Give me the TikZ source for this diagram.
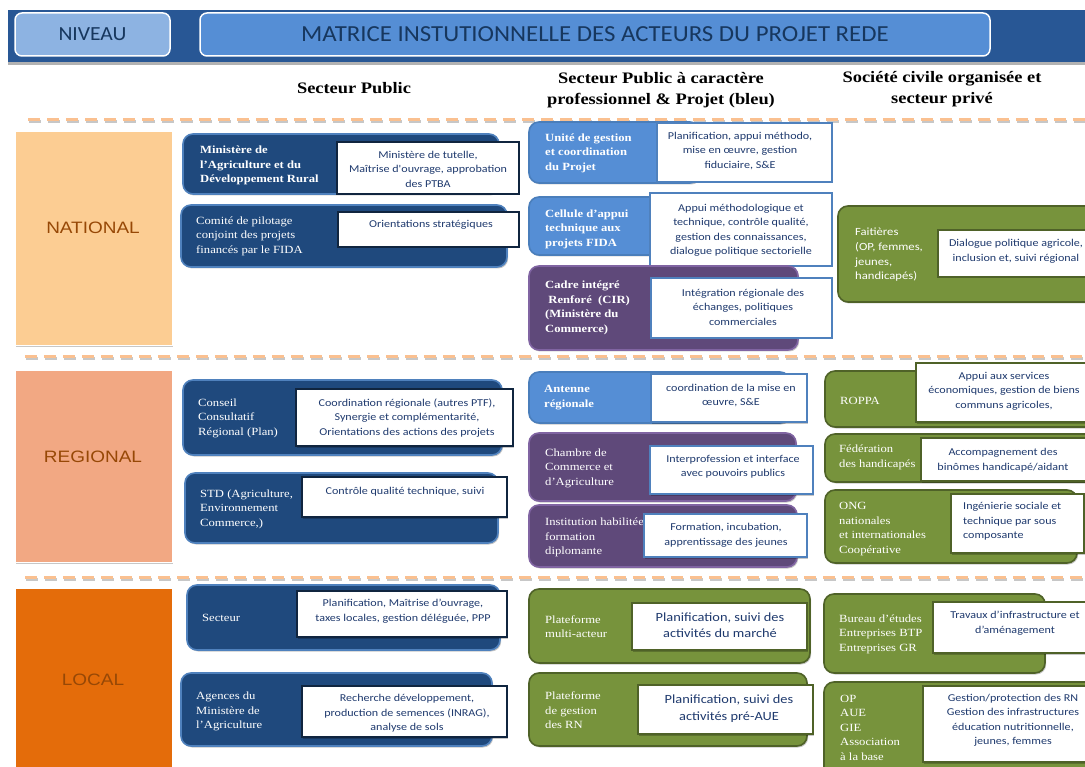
\documentclass[tikz,border=0pt]{standalone}
\usepackage{fontspec}
\setmainfont[FakeStretch=1.15]{Liberation Serif}
\newfontfamily\calfont[FakeStretch=1.15]{Carlito}
\newfontfamily\calwide[FakeStretch=1.08]{Carlito}
\newfontfamily\arifont[FakeStretch=1.15]{Liberation Sans}
\usetikzlibrary{shadows}
\definecolor{cBanner}{HTML}{285795}
\definecolor{cNiv}{HTML}{8DB3E2}
\definecolor{cTitle}{HTML}{558ED5}
\definecolor{cTitleTxt}{HTML}{17375E}
\definecolor{cNavy}{HTML}{1F497D}
\definecolor{cNavyB}{HTML}{4F81BD}
\definecolor{cBlue}{HTML}{558ED5}
\definecolor{cBlueB}{HTML}{4A7EBB}
\definecolor{cPurple}{HTML}{5F497A}
\definecolor{cPurpleB}{HTML}{8064A2}
\definecolor{cGreen}{HTML}{77933C}
\definecolor{cGreenB}{HTML}{4F6228}
\definecolor{cDark}{HTML}{10253F}
\definecolor{cWBlue}{HTML}{4F81BD}
\definecolor{cText}{HTML}{1F3A6E}
\definecolor{cNat}{HTML}{FCCD93}
\definecolor{cReg}{HTML}{F2A883}
\definecolor{cLoc}{HTML}{E46C0A}
\definecolor{cLvlTxt}{HTML}{974806}
\definecolor{cDash}{HTML}{FAC090}
\begin{document}
\begin{tikzpicture}[x=1pt,y=-1pt,
  shad/.style={drop shadow={shadow xshift=1.2pt,shadow yshift=-1.5pt,fill=black,opacity=0.22}},
  base/.style={shad,line width=1.6pt,rounded corners=10pt,inner sep=0pt},
  navybox/.style={base,fill=cNavy,draw=cNavyB},
  bluebox/.style={base,fill=cBlue,draw=cBlueB},
  purplebox/.style={base,fill=cPurple,draw=cPurpleB},
  greenbox/.style={base,fill=cGreen,draw=cGreenB},
  wbox/.style={shad,fill=white,line width=1.6pt,inner sep=0pt},
  wdark/.style={wbox,draw=cDark},
  wblue/.style={wbox,draw=cWBlue},
  wgreen/.style={wbox,draw=cGreenB},
  lab/.style={text=white,font={\fontsize{11}{14.5}\selectfont},align=left,anchor=west,inner sep=0pt},
  labb/.style={lab,font={\bfseries\fontsize{11}{14.5}\selectfont}},
  labs/.style={lab,font={\calfont\fontsize{11}{14.7}\selectfont}},
  itx/.style={text=cText,font={\calfont\fontsize{10.5}{14.5}\selectfont},align=center,inner sep=0pt},
  itxl/.style={itx,font={\calfont\fontsize{12.5}{16.5}\selectfont}},
  hdr/.style={font={\bfseries\fontsize{16}{21.5}\selectfont},align=center,inner sep=0pt},
  lvl/.style={shad,draw=white,line width=1pt,inner sep=0pt,minimum width=157pt},
  lvltxt/.style={text=cLvlTxt,font={\arifont\fontsize{16.5}{19}\selectfont},inner sep=0pt},
  dashline/.style={draw=cDash,line width=3pt,dash pattern=on 12pt off 7pt},
  dashshad/.style={draw=black!22,line width=3pt,dash pattern=on 12pt off 7pt}
]
\useasboundingbox (0,0) rectangle (1085,767);
\clip (0,0) rectangle (1085,767);
\fill[white] (0,0) rectangle (1085,767);

% banner
\node[inner sep=0pt,fill=cBanner,minimum width=1077pt,minimum height=52pt,
  drop shadow={shadow xshift=0pt,shadow yshift=-3pt,fill=black,opacity=0.3}] (banner) at (546.5,36) {};
\node[fill=cNiv,draw=white,line width=1.5pt,rounded corners=7pt,minimum width=155pt,minimum height=43pt,
  text=cTitleTxt,font={\calwide\fontsize{20}{22}\selectfont}] (niveau) at (92.5,34.5) {NIVEAU};
\node[fill=cTitle,draw=white,line width=1.5pt,rounded corners=7pt,minimum width=790pt,minimum height=43pt,
  text=cTitleTxt,font={\calwide\fontsize{23}{26}\selectfont}] (titre) at (595,34.5) {MATRICE INSTUTIONNELLE DES ACTEURS DU PROJET REDE};

% headers
\node[hdr] (hpub) at (354,88) {Secteur Public};
\node[hdr] (hpro) at (661,90) {Secteur Public à caractère\\professionnel \& Projet (bleu)};
\node[hdr] (hsoc) at (942,89) {Société civile organisée et\\secteur privé};

% dashed separators
\foreach \yy/\xx in {120/28,357/25,577/25}{
  \draw[dashshad] (\xx+1,\yy+2) -- (1090,\yy+2);
  \draw[dashline] (\xx,\yy) -- (1090,\yy);
}

% levels
\node[lvl,fill=cNat,minimum height=214pt] (national) at (93.5,239) {};
\node[lvltxt] (tnat) at (93,228) {NATIONAL};
\node[lvl,fill=cReg,minimum height=191pt] (regional) at (93.5,466.5) {};
\node[lvltxt] (treg) at (93,457) {REGIONAL};
\node[lvl,fill=cLoc,minimum height=200pt] (local) at (93.5,688) {};
\node[lvltxt] (tloc) at (93,680) {LOCAL};

% ---------- NATIONAL ----------
\node[navybox,minimum width=316pt,minimum height=60pt] (minis) at (341,164) {};
\node[labb] (minisL) at (200,165.5) {Ministère de\\l'Agriculture et du\\Développement Rural};
\node[wdark,minimum width=182pt,minimum height=52pt] (minisW) at (428,168) {};
\node[itx] (minisT) at (428,169) {Ministère de tutelle,\\Maîtrise d'ouvrage, approbation\\des PTBA};

\node[navybox,minimum width=326pt,minimum height=62pt] (comite) at (344,236) {};
\node[lab] (comiteL) at (196,236) {Comité de pilotage\\conjoint des projets\\financés par le FIDA};
\node[wdark,minimum width=181pt,minimum height=35pt] (comiteW) at (428.5,229.5) {};
\node[itx] (comiteT) at (431,225) {Orientations stratégiques};

\node[bluebox,minimum width=171pt,minimum height=61pt] (unite) at (614.5,152.5) {};
\node[labb] (uniteL) at (545,153) {Unité de gestion\\et coordination\\du Projet};
\node[wblue,minimum width=175pt,minimum height=59pt] (uniteW) at (744.5,152.5) {};
\node[itx] (uniteT) at (740,151) {Planification, appui méthodo,\\mise en œuvre, gestion\\fiduciaire, S\&E};

\node[bluebox,minimum width=171pt,minimum height=58pt] (cellule) at (614.5,226) {};
\node[labb] (celluleL) at (545,229) {Cellule d'appui\\technique aux\\projets FIDA};
\node[wblue,minimum width=182pt,minimum height=73pt] (celluleW) at (741,229.5) {};
\node[itx] (celluleT) at (741,230.5) {Appui méthodologique et\\technique, contrôle qualité,\\gestion des connaissances,\\dialogue politique sectorielle};

\node[purplebox,minimum width=269pt,minimum height=84pt] (cadre) at (663.5,308) {};
\node[labb] (cadreL) at (545,308) {Cadre intégré\\\ Renforé\ \ (CIR)\\(Ministère du\\Commerce)};
\node[wblue,minimum width=181pt,minimum height=60pt] (cadreW) at (741.5,308) {};
\node[itx] (cadreT) at (743,307) {Intégration régionale des\\échanges, politiques\\commerciales};

\node[greenbox,minimum width=272pt,minimum height=96pt] (fait) at (974,254) {};
\node[labs] (faitL) at (855,255) {Faitières\\(OP, femmes,\\jeunes,\\handicapés)};
\node[wgreen,minimum width=172pt,minimum height=47pt] (faitW) at (1024,253.5) {};
\node[itx] (faitT) at (1016,251.5) {Dialogue politique agricole,\\inclusion et, suivi régional};

% ---------- REGIONAL ----------
\node[navybox,minimum width=319pt,minimum height=75pt] (conseil) at (342.5,417.5) {};
\node[lab] (conseilL) at (198,418) {Conseil\\Consultatif\\Régional (Plan)};
\node[wdark,minimum width=217pt,minimum height=57pt] (conseilW) at (404.5,417.5) {};
\node[itx] (conseilT) at (407,418) {Coordination régionale (autres PTF),\\Synergie et complémentarité,\\Orientations des actions des projets};

\node[navybox,minimum width=313pt,minimum height=70pt] (std) at (341.5,508) {};
\node[lab] (stdL) at (200,509) {STD (Agriculture,\\Environnement\\Commerce,)};
\node[wdark,minimum width=205pt,minimum height=40pt] (stdW) at (404.5,497) {};
\node[itx] (stdT) at (405,492) {Contrôle qualité technique, suivi};

\node[bluebox,minimum width=261pt,minimum height=51pt] (antenne) at (659.5,397.5) {};
\node[labb] (antenneL) at (544,397.5) {Antenne\\régionale};
\node[wblue,minimum width=156pt,minimum height=48pt] (antenneW) at (729,398) {};
\node[itx] (antenneT) at (731,395.5) {coordination de la mise en\\œuvre, S\&E};

\node[purplebox,minimum width=267pt,minimum height=68pt] (chambre) at (662.5,467) {};
\node[lab] (chambreL) at (545,468) {Chambre de\\Commerce et\\d’Agriculture};
\node[wblue,minimum width=163pt,minimum height=48pt] (chambreW) at (731.5,470) {};
\node[itx] (chambreT) at (733,466.5) {Interprofession et interface\\avec pouvoirs publics};

\node[purplebox,minimum width=268pt,minimum height=62pt] (instit) at (663,536) {};
\node[lab] (institL) at (545,537.5) {Institution habilitée\\formation\\diplomante};
\node[wblue,minimum width=163pt,minimum height=43pt] (institW) at (725.5,535.5) {};
\node[itx] (institT) at (726,535.5) {Formation, incubation,\\apprentissage des jeunes};

\node[greenbox,minimum width=275pt,minimum height=56pt] (roppa) at (962.5,399) {};
\node[lab] (roppaL) at (840,401) {ROPPA};
\node[wgreen,minimum width=184pt,minimum height=59pt] (roppaW) at (1008,392.5) {};
\node[itx] (roppaT) at (1004,391) {Appui aux services\\économiques, gestion de biens\\communs agricoles,};

\node[greenbox,minimum width=275pt,minimum height=48pt] (fed) at (962.5,458) {};
\node[lab] (fedL) at (839,457.5) {Fédération\\des handicapés};
\node[wgreen,minimum width=179pt,minimum height=43pt] (fedW) at (1010.5,459.5) {};
\node[itx] (fedT) at (1003,460) {Accompagnement des\\binômes handicapé/aidant};

\node[greenbox,minimum width=252pt,minimum height=73pt] (ong) at (951,526.5) {};
\node[lab] (ongL) at (839,529) {ONG\\nationales\\et internationales\\Coopérative};
\node[wgreen,minimum width=133pt,minimum height=59pt] (ongW) at (1017.5,523.5) {};
\node[itx,align=left,anchor=west] (ongT) at (963,521.5) {Ingénierie sociale et\\technique par sous\\composante};

% ---------- LOCAL ----------
\node[navybox,minimum width=313pt,minimum height=65pt] (secteur) at (343.5,617.5) {};
\node[lab] (secteurL) at (202,618) {Secteur};
\node[wdark,minimum width=210pt,minimum height=46pt] (secteurW) at (402,614) {};
\node[itx] (secteurT) at (403,611) {Planification, Maîtrise d’ouvrage,\\taxes locales, gestion déléguée, PPP};

\node[navybox,minimum width=311pt,minimum height=73pt] (agences) at (336.5,709.5) {};
\node[lab] (agencesL) at (196,711.5) {Agences du\\Ministère de\\l'Agriculture};
\node[wdark,minimum width=205pt,minimum height=51pt] (agencesW) at (404.5,711.5) {};
\node[itx] (agencesT) at (407,713.5) {Recherche développement,\\production de semences (INRAG),\\analyse de sols};

\node[greenbox,minimum width=281pt,minimum height=74pt] (plat1) at (669.5,626) {};
\node[lab] (plat1L) at (545,626.5) {Plateforme\\multi-acteur};
\node[wgreen,minimum width=175pt,minimum height=47pt] (plat1W) at (719.5,626.5) {};
\node[itxl] (plat1T) at (720,625) {Planification, suivi des\\activités du marché};

\node[greenbox,minimum width=278pt,minimum height=73pt] (plat2) at (668,709.5) {};
\node[lab] (plat2L) at (545,710.5) {Plateforme\\de gestion\\des RN};
\node[wgreen,minimum width=175pt,minimum height=49pt] (plat2W) at (725.5,709.5) {};
\node[itxl] (plat2T) at (729,708.5) {Planification, suivi des\\activités pré-AUE};

\node[greenbox,minimum width=221pt,minimum height=79pt] (bureau) at (934.5,633.5) {};
\node[lab] (bureauL) at (839,634) {Bureau d’études\\Entreprises BTP\\Entreprises GR};
\node[wgreen,minimum width=167pt,minimum height=51pt] (bureauW) at (1016.5,627.5) {};
\node[itx] (bureauT) at (1015,623) {Travaux d’infrastructure et\\d’aménagement};

\node[greenbox,minimum width=276pt,minimum height=108pt] (op) at (962,736) {};
\node[lab] (opL) at (840,727.5) {OP\\AUE\\GIE\\Association\\à la base};
\node[wgreen,minimum width=177pt,minimum height=76pt] (opW) at (1011.5,724) {};
\node[itx] (opT) at (1013,720.5) {Gestion/protection des RN\\Gestion des infrastructures\\éducation nutritionnelle,\\jeunes, femmes};
\end{tikzpicture}
\end{document}
